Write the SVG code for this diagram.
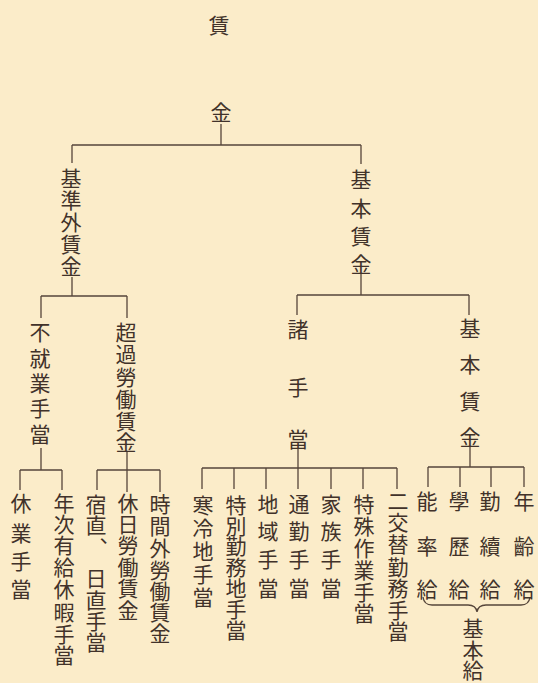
<svg xmlns="http://www.w3.org/2000/svg" width="538" height="683" viewBox="0 0 538 683">
<style>
text{font-family:"Noto Sans CJK JP","Noto Sans CJK SC",sans-serif;font-size:21px;fill:#41322a;text-anchor:middle;dominant-baseline:central}
.c line,.c path{stroke:#55453a;stroke-width:1.3;fill:none}
</style>
<rect width="538" height="683" fill="#fbecc9"/>
<g class="c" id="connectors">
<line x1="221" y1="124" x2="221" y2="145"/>
<line x1="72" y1="145" x2="361" y2="145"/>
<line x1="72" y1="145" x2="72" y2="163"/>
<line x1="361" y1="145" x2="361" y2="164"/>
<line x1="72" y1="277" x2="72" y2="296"/>
<line x1="41" y1="296" x2="127" y2="296"/>
<line x1="41" y1="296" x2="41" y2="318"/>
<line x1="127" y1="296" x2="127" y2="318"/>
<line x1="361" y1="274" x2="361" y2="295"/>
<line x1="297" y1="295" x2="469" y2="295"/>
<line x1="297" y1="295" x2="297" y2="315"/>
<line x1="469" y1="295" x2="469" y2="315"/>
<line x1="41" y1="448" x2="41" y2="470"/>
<line x1="20" y1="470" x2="62" y2="470"/>
<line x1="20" y1="470" x2="20" y2="490"/>
<line x1="62" y1="470" x2="62" y2="490"/>
<line x1="127" y1="451" x2="127" y2="470"/>
<line x1="97" y1="470" x2="160" y2="470"/>
<line x1="97" y1="470" x2="97" y2="490"/>
<line x1="127" y1="470" x2="127" y2="492"/>
<line x1="160" y1="470" x2="160" y2="492"/>
<line x1="298" y1="449" x2="298" y2="468"/>
<line x1="202" y1="468" x2="397" y2="468"/>
<line x1="202" y1="468" x2="202" y2="489"/>
<line x1="234" y1="468" x2="234" y2="489"/>
<line x1="266" y1="468" x2="266" y2="489"/>
<line x1="298" y1="468" x2="298" y2="489"/>
<line x1="331" y1="468" x2="331" y2="489"/>
<line x1="363" y1="468" x2="363" y2="489"/>
<line x1="397" y1="468" x2="397" y2="489"/>
<line x1="470" y1="447" x2="470" y2="467"/>
<line x1="428" y1="467" x2="524" y2="467"/>
<line x1="428" y1="467" x2="428" y2="487"/>
<line x1="460" y1="467" x2="460" y2="487"/>
<line x1="491" y1="467" x2="491" y2="487"/>
<line x1="524" y1="467" x2="524" y2="487"/>
<path d="M423,597 Q424,605 432,605 L468,605 Q476,605 477,612 Q478,605 486,605 L521,605 Q529,605 530,597" stroke-width="1.6"/>
</g>
<g id="root"><text x="219" y="24">賃</text><text x="221" y="111">金</text></g>
<g id="kijungai"><text x="71" y="177">基</text><text x="71" y="199">準</text><text x="71" y="221">外</text><text x="71" y="243">賃</text><text x="71" y="265">金</text></g>
<g id="kihonchingin"><text x="361" y="178">基</text><text x="361" y="207">本</text><text x="361" y="235">賃</text><text x="361" y="263">金</text></g>
<g id="fushugyo"><text x="40" y="331">不</text><text x="40" y="357">就</text><text x="40" y="382">業</text><text x="40" y="407">手</text><text x="40" y="433">當</text></g>
<g id="chouka"><text x="126" y="331">超</text><text x="126" y="353">過</text><text x="126" y="376">勞</text><text x="126" y="398">働</text><text x="126" y="420">賃</text><text x="126" y="441">金</text></g>
<g id="shoteate"><text x="298" y="328">諸</text><text x="298" y="386">手</text><text x="298" y="438">當</text></g>
<g id="kihonchingin2"><text x="470" y="327">基</text><text x="470" y="363">本</text><text x="470" y="400">賃</text><text x="470" y="436">金</text></g>
<g id="kyugyo"><text x="21" y="502">休</text><text x="21" y="532">業</text><text x="21" y="560">手</text><text x="21" y="588">當</text></g>
<g id="nenji"><text x="64" y="502">年</text><text x="64" y="523">次</text><text x="64" y="544">有</text><text x="64" y="566">給</text><text x="64" y="588">休</text><text x="64" y="611">暇</text><text x="64" y="633">手</text><text x="64" y="654">當</text></g>
<g id="shukuchoku"><text x="96" y="503">宿</text><text x="96" y="524">直</text><text x="110" y="533">、</text><text x="96" y="577">日</text><text x="96" y="599">直</text><text x="96" y="620">手</text><text x="96" y="641">當</text></g>
<g id="kyujitsu"><text x="128" y="502">休</text><text x="128" y="523">日</text><text x="128" y="544">勞</text><text x="128" y="566">働</text><text x="128" y="587">賃</text><text x="128" y="609">金</text></g>
<g id="jikangai"><text x="160" y="503">時</text><text x="160" y="525">間</text><text x="160" y="547">外</text><text x="160" y="569">勞</text><text x="160" y="590">働</text><text x="160" y="611">賃</text><text x="160" y="632">金</text></g>
<g id="kanreichi"><text x="203" y="504">寒</text><text x="203" y="527">冷</text><text x="203" y="550">地</text><text x="203" y="573">手</text><text x="203" y="596">當</text></g>
<g id="tokubetsu"><text x="236" y="504">特</text><text x="236" y="525">別</text><text x="236" y="545">勤</text><text x="236" y="566">務</text><text x="236" y="587">地</text><text x="236" y="608">手</text><text x="236" y="629">當</text></g>
<g id="chiiki"><text x="268" y="503">地</text><text x="268" y="530">域</text><text x="268" y="558">手</text><text x="268" y="587">當</text></g>
<g id="tsukin"><text x="299" y="503">通</text><text x="299" y="530">勤</text><text x="299" y="558">手</text><text x="299" y="587">當</text></g>
<g id="kazoku"><text x="331" y="503">家</text><text x="331" y="530">族</text><text x="331" y="558">手</text><text x="331" y="587">當</text></g>
<g id="tokushu"><text x="364" y="503">特</text><text x="364" y="525">殊</text><text x="364" y="547">作</text><text x="364" y="569">業</text><text x="364" y="591">手</text><text x="364" y="612">當</text></g>
<g id="nikotai"><text x="398" y="500">二</text><text x="398" y="521">交</text><text x="398" y="543">替</text><text x="398" y="566">勤</text><text x="398" y="587">務</text><text x="398" y="609">手</text><text x="398" y="630">當</text></g>
<g id="noritsu"><text x="427" y="500">能</text><text x="427" y="545">率</text><text x="427" y="588">給</text></g>
<g id="gakureki"><text x="459" y="500">學</text><text x="459" y="545">歷</text><text x="459" y="588">給</text></g>
<g id="kinzoku"><text x="490" y="500">勤</text><text x="490" y="545">續</text><text x="490" y="588">給</text></g>
<g id="nenrei"><text x="524" y="500">年</text><text x="524" y="545">齡</text><text x="524" y="588">給</text></g>
<g id="kihonkyu"><text x="473" y="627">基</text><text x="473" y="649">本</text><text x="473" y="669">給</text></g>
</svg>
